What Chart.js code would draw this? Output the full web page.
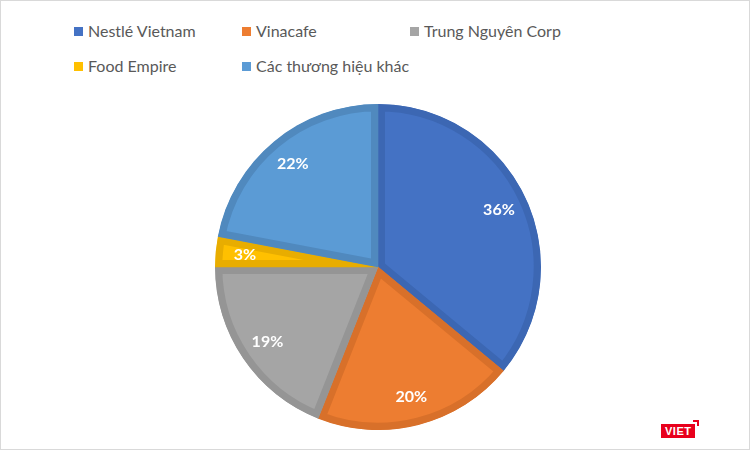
<!DOCTYPE html>
<html>
<head>
<meta charset="utf-8">
<script src="https://cdn.jsdelivr.net/npm/chart.js@4"></script>
<style>
  body { margin: 0; background: #fff; font-family: Lato, "Liberation Sans", sans-serif; }
  #frame { position: absolute; left: 0; top: 0; width: 748px; height: 448px; border: 1px solid #d9d9d9; background: #fff; }
  #legend { position: absolute; left: 73px; top: 20px; width: 620px; }
  .item { position: absolute; font-size: 16px; color: #595959; white-space: nowrap; line-height: 20px; }
  .item i { display: inline-block; width: 9px; height: 9px; margin-right: 5px; vertical-align: 1px; }
  #pieWrap { position: absolute; left: 214px; top: 103px; width: 326px; height: 326px; }
  #logo { position: absolute; left: 660px; top: 423px; background: #e8001c; color: #fff; font: bold 11px "Liberation Sans", sans-serif; padding: 1px 4px; letter-spacing: 0.5px; }
  #logo:after { content: ""; position: absolute; right: -4px; top: -4px; width: 4px; height: 4px; border-top: 2px solid #e8001c; border-right: 2px solid #e8001c; }
</style>
</head>
<body>
<div id="frame">
  <div id="legend"></div>
  <div id="pieWrap"><canvas id="pieChart"></canvas></div>
  <div id="logo">VIET</div>
</div>
<script>
// brands and market share (%)
const brands = ["Nestlé Vietnam", "Vinacafe", "Trung Nguyên Corp", "Food Empire", "Các thương hiệu khác"];
const shares = [36, 20, 19, 3, 22];
const fillColors = ["#4472C4", "#ED7D31", "#A5A5A5", "#FFC000", "#5B9BD5"];
const edgeColors = ["#3C67B3", "#D8702A", "#959595", "#E8AD00", "#5089BE"];

// legend laid out as a grid, 3 columns
const legendBox = document.getElementById('legend');
brands.forEach(function (name, i) {
    const el = document.createElement('div');
    el.className = 'item';
    el.style.left = (i % 3) * 168 + 'px';
    el.style.top = Math.floor(i / 3) * 35 + 'px';
    el.innerHTML = '<i style="background:' + fillColors[i] + '"></i>' + name;
    legendBox.appendChild(el);
});

// white percent labels inside each slice
const sliceLabels = {
    id: 'sliceLabels',
    afterDatasetsDraw(chart) {
        const ctx = chart.ctx;
        const arcs = chart.getDatasetMeta(0).data;
        ctx.save();
        ctx.fillStyle = '#fff';
        ctx.font = 'bold 16px Lato, "Liberation Sans", sans-serif';
        ctx.textAlign = 'center';
        ctx.textBaseline = 'middle';
        arcs.forEach(function (arc, i) {
            const mid = (arc.startAngle + arc.endAngle) / 2;
            const r = arc.outerRadius * 0.82;
            ctx.fillText(shares[i] + '%', arc.x + Math.cos(mid) * r, arc.y + Math.sin(mid) * r);
        });
        ctx.restore();
    }
};

const pieCtx = document.getElementById('pieChart').getContext('2d');
const pieChart = new Chart(pieCtx, {
    type: 'pie',
    data: {
        labels: brands,
        datasets: [{
            data: shares,
            backgroundColor: fillColors,
            borderColor: edgeColors,
            borderWidth: 7,
            borderAlign: 'inner'
        }]
    },
    options: {
        responsive: true,
        maintainAspectRatio: false,
        animation: false,
        plugins: {
            legend: { display: false },
            tooltip: { enabled: false }
        }
    },
    plugins: [sliceLabels]
});
</script>
</body>
</html>
